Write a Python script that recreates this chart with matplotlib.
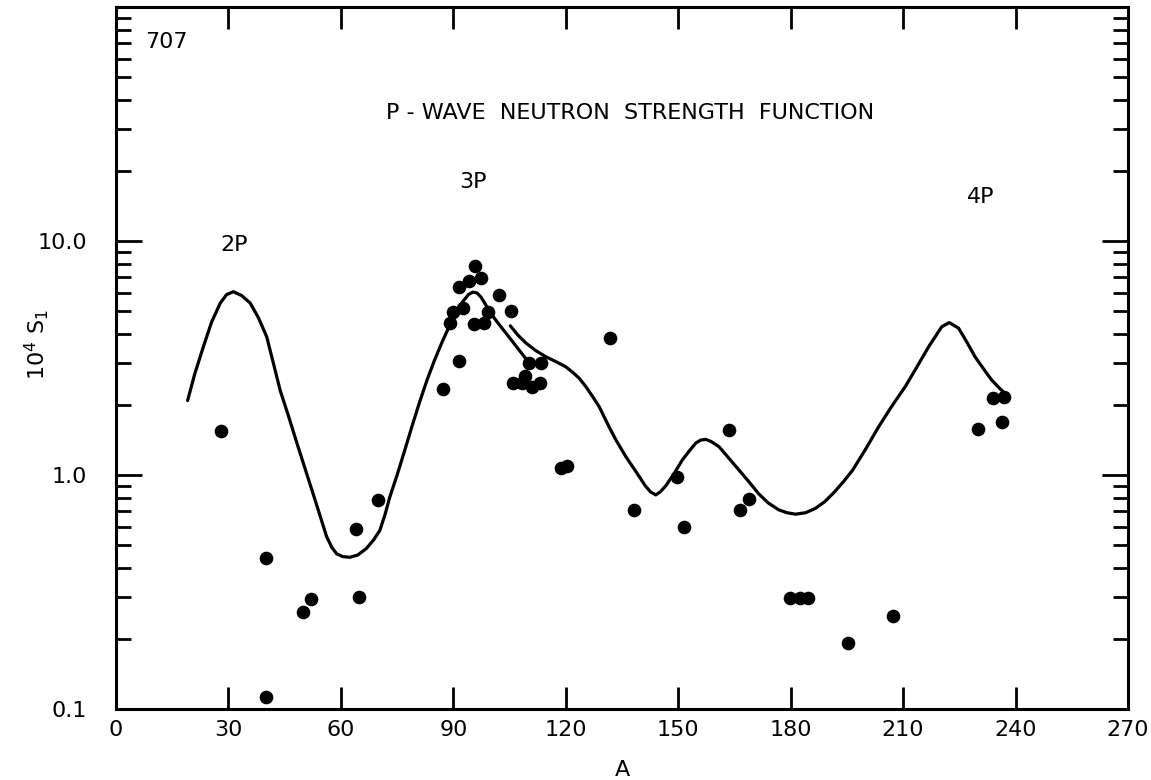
import numpy as np
import matplotlib.pyplot as plt
from matplotlib.ticker import FixedLocator, NullFormatter

# measured points: mass number A and 10^4 S1
A_pts = [27.9, 40.0, 40.1, 50.0, 52.0, 63.9, 64.9, 69.8,
         87.2, 89.2, 89.9, 91.4, 91.6, 92.7, 94.3, 95.4, 95.9, 97.5, 98.1, 99.2,
         102.1, 105.3, 106.0, 108.2, 109.2, 110.3, 111.0, 113.1, 113.3,
         118.7, 120.2, 131.8, 138.1, 149.6, 151.6, 163.5, 166.5, 169.0,
         179.7, 182.4, 184.6, 195.3, 207.3, 229.9, 234.1, 236.3, 236.9]
S_pts = [1.54, 0.44, 0.112, 0.259, 0.296, 0.586, 0.301, 0.78,
         2.32, 4.47, 4.99, 6.34, 3.08, 5.15, 6.74, 4.41, 7.83, 6.97, 4.48, 4.95,
         5.87, 5.01, 2.48, 2.48, 2.65, 3.0, 2.38, 2.48, 3.0,
         1.07, 1.09, 3.84, 0.71, 0.98, 0.60, 1.56, 0.71, 0.79,
         0.298, 0.298, 0.298, 0.191, 0.25, 1.58, 2.14, 1.68, 2.16]

# theory curve, first branch (2P and 3P peaks)
A_fit1 = [19.1, 21.0, 23.3, 25.5, 27.8, 29.5, 31.3, 33.5, 35.8, 38.0, 40.2, 42.0,
          43.8, 46.0, 48.2, 50.4, 52.6, 54.5, 56.2, 57.6, 58.9, 60.5, 62.4, 64.5,
          66.8, 68.8, 70.4, 71.8, 73.0, 75.0, 77.0, 79.0, 81.0, 83.0, 85.0, 87.0,
          89.0, 91.0, 92.5, 94.0, 95.2, 96.3, 97.4, 98.6, 99.7, 101.5, 103.2,
          105.5, 107.6, 109.5, 110.5]
S_fit1 = [2.08, 2.7, 3.53, 4.5, 5.42, 5.9, 6.07, 5.85, 5.43, 4.7, 3.9, 3.0,
          2.3, 1.79, 1.38, 1.07, 0.83, 0.665, 0.545, 0.49, 0.46, 0.448, 0.445, 0.455,
          0.485, 0.53, 0.58, 0.68, 0.8, 1.0, 1.27, 1.62, 2.05, 2.55, 3.1, 3.7,
          4.35, 5.0, 5.5, 5.9, 6.05, 6.0, 5.75, 5.35, 4.99, 4.55, 4.2,
          3.77, 3.41, 3.12, 2.97]

# second branch (up to 4P peak)
A_fit2 = [105.2, 107.3, 109.4, 112.0, 114.7, 117.4, 120.0, 121.8, 123.6, 125.4,
          127.2, 128.9, 131.6, 133.4, 136.0, 137.8, 139.5, 141.2, 142.6, 144.0,
          145.2, 146.7, 149.0, 151.1, 153.0, 154.7, 156.0, 157.3, 158.8, 160.9,
          163.5, 166.2, 169.0, 171.5, 174.0, 176.8, 179.0, 181.3, 184.0, 186.6,
          189.0, 191.5, 194.0, 196.5, 200.0, 203.5, 207.0, 210.6, 213.7, 216.8,
          218.8, 220.3, 222.3, 224.8, 227.0, 229.2, 231.4, 233.6, 235.7, 237.6]
S_fit2 = [4.34, 3.95, 3.66, 3.4, 3.2, 3.05, 2.9, 2.75, 2.59, 2.38,
          2.16, 1.96, 1.6, 1.41, 1.2, 1.087, 0.99, 0.9, 0.847, 0.822,
          0.847, 0.9, 1.02, 1.16, 1.27, 1.37, 1.41, 1.42, 1.39, 1.32,
          1.18, 1.05, 0.93, 0.83, 0.76, 0.71, 0.69, 0.68, 0.69, 0.72,
          0.767, 0.84, 0.933, 1.047, 1.29, 1.61, 1.97, 2.39, 2.9, 3.53,
          3.95, 4.3, 4.48, 4.24, 3.7, 3.2, 2.85, 2.55, 2.35, 2.2]

x_ticks = [0, 30, 60, 90, 120, 150, 180, 210, 240, 270]
y_ticks = [0.1, 1.0, 10.0]
y_labels = ['0.1', '1.0', '10.0']

plt.rcParams['font.family'] = 'DejaVu Sans'

fig = plt.figure(figsize=(11.51, 7.80), dpi=100)
ax = fig.add_axes([116 / 1151, 1 - 709 / 780, (1128 - 116) / 1151, (709 - 7) / 780])

ax.plot(A_fit1, S_fit1, color='black', lw=2.3, solid_capstyle='round',
        solid_joinstyle='round')
ax.plot(A_fit2, S_fit2, color='black', lw=2.3, solid_capstyle='round',
        solid_joinstyle='round')
ax.plot(A_pts, S_pts, 'o', color='black', markersize=8.8)

ax.set_yscale('log')
ax.set_xlim(0, 270)
ax.set_ylim(0.1, 100)

ax.set_xticks(x_ticks)
ax.set_xticklabels([str(t) for t in x_ticks])
ax.set_yticks(y_ticks)
ax.set_yticklabels(y_labels)
minor = [m * 10.0 ** e for e in (-1, 0, 1) for m in range(2, 10)]
ax.yaxis.set_minor_locator(FixedLocator(minor))
ax.yaxis.set_minor_formatter(NullFormatter())

ax.tick_params(axis='x', which='major', direction='in', length=16, width=2,
               top=True, labelsize=16, pad=8)
ax.tick_params(axis='y', which='major', direction='in', length=19, width=2,
               right=True, labelsize=16, pad=21)
ax.tick_params(axis='y', which='minor', direction='in', length=11, width=2,
               right=True)
for s in ax.spines.values():
    s.set_linewidth(2.2)

fig.text(622 / 1151, 1 - 770 / 780, 'A', fontsize=16, ha='center', va='center')
fig.text(37 / 1151, 1 - 345 / 780, r'$\mathregular{10^4\ S_1}$', fontsize=16,
         rotation=90, ha='center', va='center')

fig.text(145 / 1151, 1 - 42 / 780, '707', fontsize=16, ha='left', va='center')
fig.text(630 / 1151, 1 - 113 / 780, 'P - WAVE  NEUTRON  STRENGTH  FUNCTION',
         fontsize=16, ha='center', va='center')
fig.text(473 / 1151, 1 - 182 / 780, '3P', fontsize=16, ha='center', va='center')
fig.text(234 / 1151, 1 - 245 / 780, '2P', fontsize=16, ha='center', va='center')
fig.text(981 / 1151, 1 - 197 / 780, '4P', fontsize=16, ha='center', va='center')

fig.savefig('out.png', dpi=100)
